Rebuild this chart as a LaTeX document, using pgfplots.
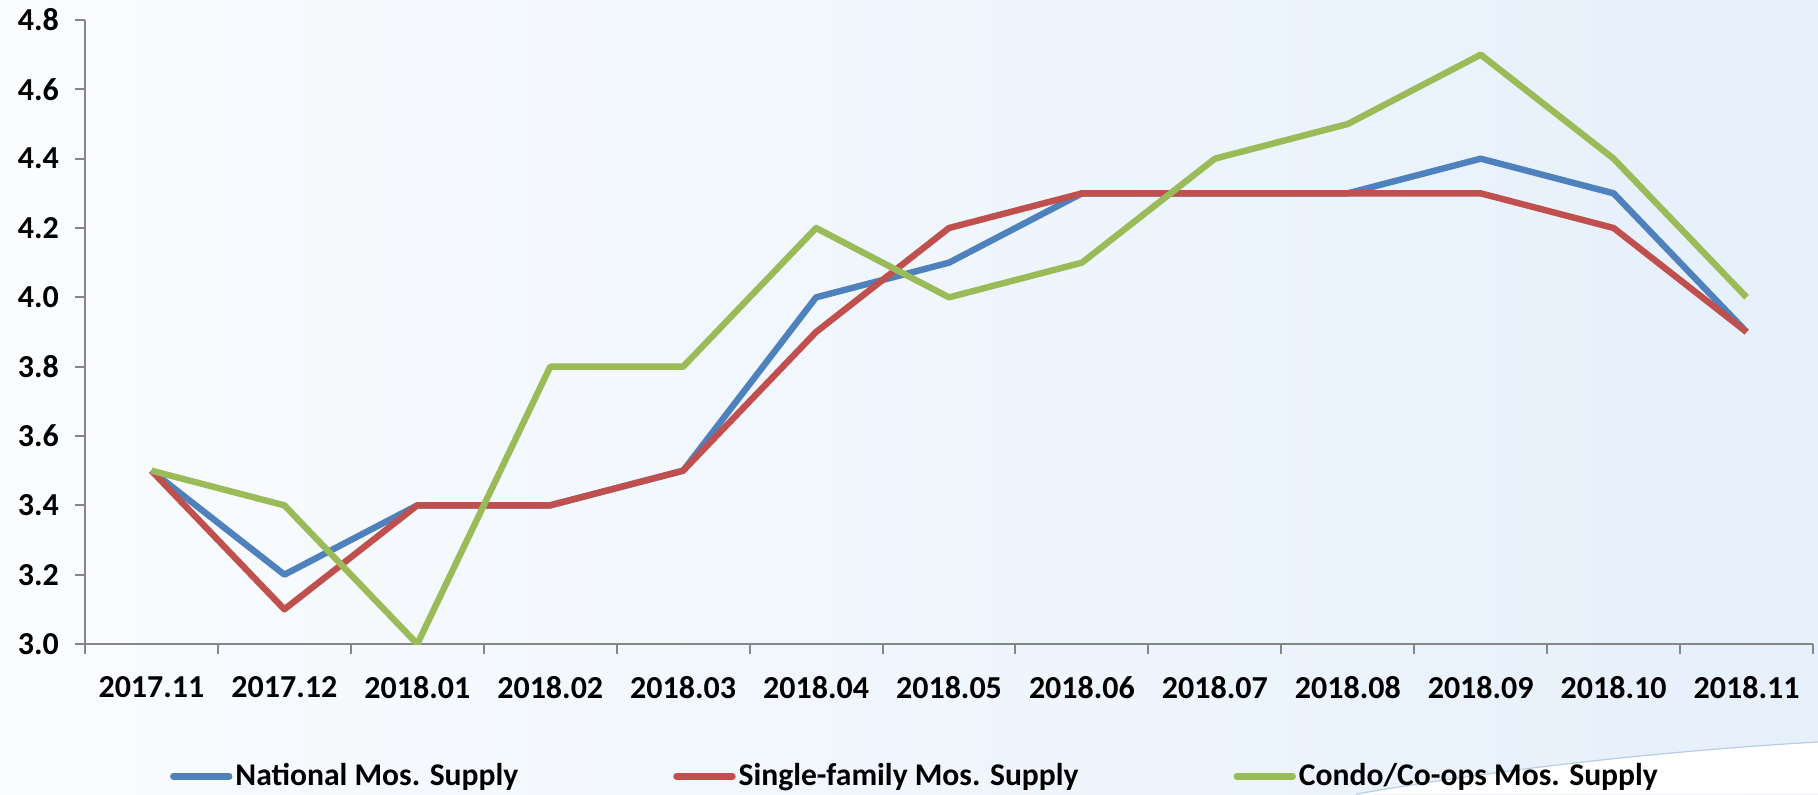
\documentclass[border=0pt]{standalone}
\usepackage{pgfplots}
\pgfplotsset{compat=1.18}
\usepackage{fontspec}
\setmainfont{Carlito}
\definecolor{cblue}{HTML}{4F81BD}
\definecolor{cred}{HTML}{C0504D}
\definecolor{cgreen}{HTML}{9BBB59}
\definecolor{bgl}{HTML}{FAFCFE}
\definecolor{bgr}{HTML}{E6F0FB}
\definecolor{axgray}{HTML}{868686}
\begin{document}
\begin{tikzpicture}
\fill[left color=bgl, right color=bgr] (0,0) rectangle (909pt,397pt);
\useasboundingbox (0,0) rectangle (909pt,397pt);
\fill[white] (678pt,0pt) .. controls (760pt,14pt) and (840pt,22pt) .. (909pt,26pt) -- (909pt,0pt) -- cycle;
\draw[cblue!40, line width=0.6pt] (678pt,0pt) .. controls (760pt,14pt) and (840pt,22pt) .. (909pt,26pt);
\begin{axis}[
  at={(42.5pt,75pt)}, anchor=south west,
  scale only axis, width=864pt, height=312pt,
  xmin=-0.5, xmax=12.5, ymin=3, ymax=4.8,
  axis x line*=bottom, axis y line*=left,
  axis line style={draw=axgray, line width=1pt},
  tick style={draw=axgray, line width=1pt},
  tick align=outside, major tick length=5pt,
  ytick={3,3.2,3.4,3.6,3.8,4,4.2,4.4,4.6,4.8},
  yticklabel style={/pgf/number format/fixed, /pgf/number format/fixed zerofill, /pgf/number format/precision=1, xshift=-4.5pt},
  xtick={-0.5,0.5,1.5,2.5,3.5,4.5,5.5,6.5,7.5,8.5,9.5,10.5,11.5,12.5},
  xticklabels={},
  extra x ticks={0,1,2,3,4,5,6,7,8,9,10,11,12},
  extra x tick labels={2017.11,2017.12,2018.01,2018.02,2018.03,2018.04,2018.05,2018.06,2018.07,2018.08,2018.09,2018.10,2018.11},
  extra x tick style={major tick length=0pt, tick style={draw=none}},
  /pgf/number format/assume math mode=true,
  tick label style={font=\bfseries\fontsize{16}{19}\selectfont},
  xticklabel style={yshift=-12.5pt},
  legend columns=3,
  legend style={at={(0.049,-0.212)}, anchor=west, draw=none, fill=none, inner sep=0pt,
    font=\bfseries\fontsize{15.8}{19}\selectfont,
    nodes={inner sep=1.5pt}, column sep=0pt,
    /tikz/every even column/.append style={column sep=76pt}},
  legend cell align=left,
  legend image code/.code={\draw[#1, line cap=round] (0pt,0pt) -- (28pt,0pt);},
]
\addplot[cblue, line width=3.2pt, line join=round] coordinates {
(0,3.5) (1,3.2) (2,3.4) (3,3.4) (4,3.5) (5,4.0) (6,4.1) (7,4.3) (8,4.3) (9,4.3) (10,4.4) (11,4.3) (12,3.9)};
\addlegendentry{National Mos. Supply}
\addplot[cred, line width=3.2pt, line join=round] coordinates {
(0,3.5) (1,3.1) (2,3.4) (3,3.4) (4,3.5) (5,3.9) (6,4.2) (7,4.3) (8,4.3) (9,4.3) (10,4.3) (11,4.2) (12,3.9)};
\addlegendentry{Single-family Mos. Supply}
\addplot[cgreen, line width=3.2pt, line join=round] coordinates {
(0,3.5) (1,3.4) (2,3.0) (3,3.8) (4,3.8) (5,4.2) (6,4.0) (7,4.1) (8,4.4) (9,4.5) (10,4.7) (11,4.4) (12,4.0)};
\addlegendentry{Condo/Co-ops Mos. Supply}
\end{axis}
\end{tikzpicture}
\end{document}
